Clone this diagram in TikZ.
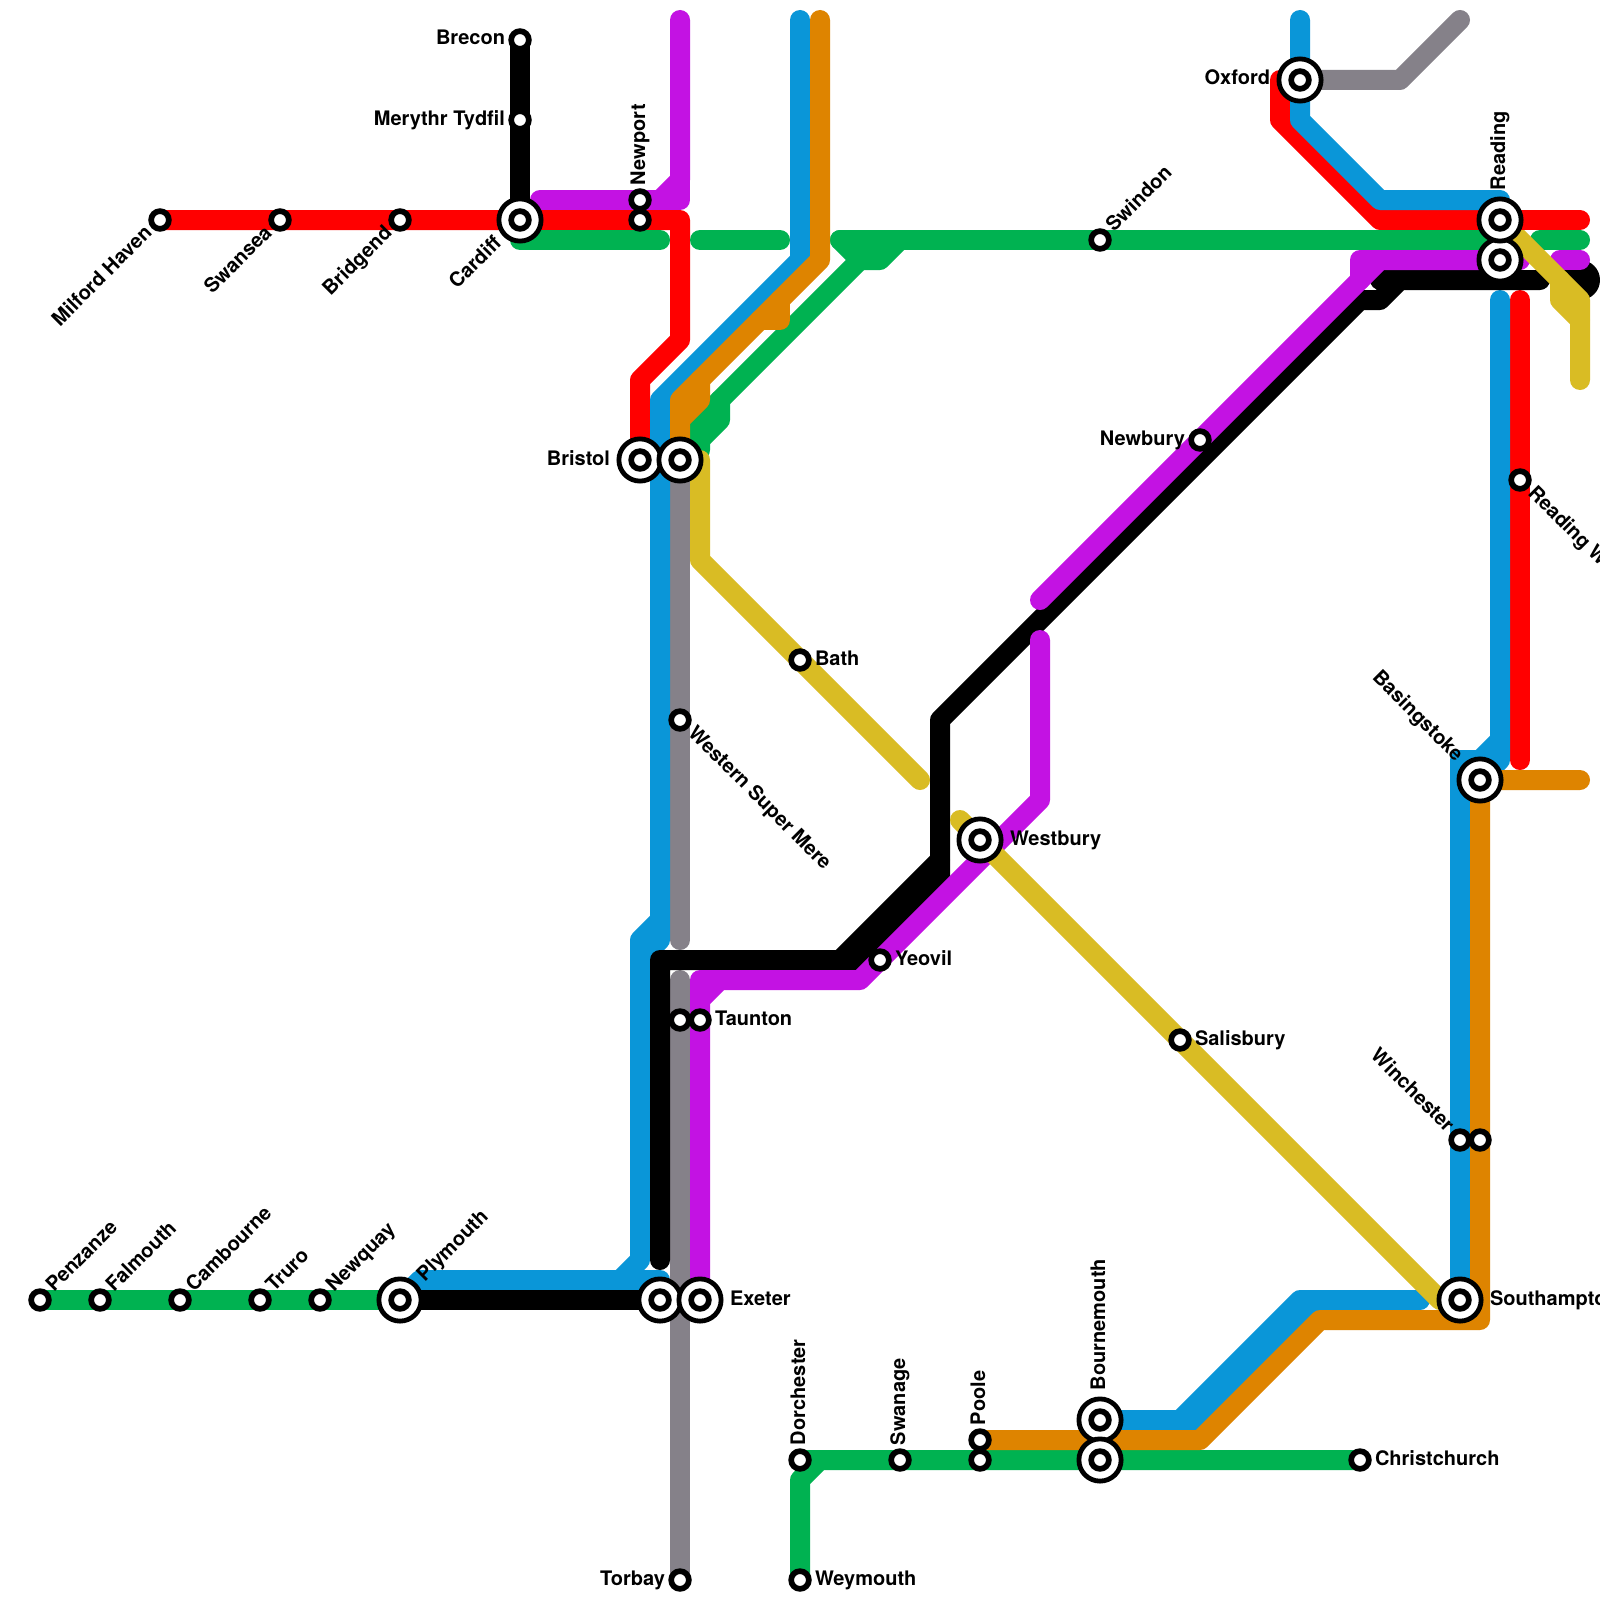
\documentclass[tikz,border=0pt]{standalone}
\usepackage{fontspec}
\setmainfont{TeX Gyre Heros}
\definecolor{lred}{HTML}{FF0000}
\definecolor{lgreen}{HTML}{00B251}
\definecolor{lgray}{HTML}{858189}
\definecolor{lblue}{HTML}{0A96D8}
\definecolor{lorange}{HTML}{DE8400}
\definecolor{lpurple}{HTML}{C312E3}
\definecolor{lyellow}{HTML}{D9BC24}
\tikzset{
  metro/.style={line width=20pt,line cap=round,line join=round},
  smallst/.style={circle,draw=black,fill=white,line width=5.7pt,minimum size=17.7pt,inner sep=0pt,outer sep=0pt},
  bigst/.style={circle,draw=black,fill=white,line width=4.8pt,minimum size=42.2pt,inner sep=0pt,outer sep=0pt},
  lab/.style={font=\fontsize{20pt}{20pt}\selectfont\bfseries,inner sep=0pt,outer sep=0pt,text=black},
  labE/.style 2 args={lab,shift={(#1:#2pt)},shift={(#1-90:5pt)},rotate=#1,anchor=base west},
  labW/.style 2 args={lab,shift={(#1+180:#2pt)},shift={(#1-90:5pt)},rotate=#1,anchor=base east}
}
\newcommand{\smallstation}[1]{\node[smallst] (s#1) at (#1) {};}
\newcommand{\bigstation}[1]{\node[bigst] (b#1) at (#1) {};\node[smallst] (s#1) at (#1) {};}
\begin{document}
\begin{tikzpicture}[x=1pt,y=-1pt]
\useasboundingbox (0,0) rectangle (1600,1600);
\fill[white] (0,0) rectangle (1600,1600);
% stations
\coordinate (penzanze) at (40,1300);
\coordinate (falmouth) at (100,1300);
\coordinate (cambourne) at (180,1300);
\coordinate (truro) at (260,1300);
\coordinate (newquay) at (320,1300);
\coordinate (plymouth) at (400,1300);
\coordinate (exeterA) at (660,1300);
\coordinate (exeter) at (700,1300);
\coordinate (milford) at (160,220);
\coordinate (swansea) at (280,220);
\coordinate (bridgend) at (400,220);
\coordinate (cardiff) at (520,220);
\coordinate (brecon) at (520,40);
\coordinate (merthyr) at (520,120);
\coordinate (newport) at (640,200);
\coordinate (newportB) at (640,220);
\coordinate (bristol) at (640,460);
\coordinate (bristolB) at (680,460);
\coordinate (oxford) at (1300,80);
\coordinate (reading) at (1500,220);
\coordinate (readingB) at (1500,260);
\coordinate (swindon) at (1100,240);
\coordinate (newbury) at (1200,440);
\coordinate (readingW) at (1520,480);
\coordinate (bath) at (800,660);
\coordinate (wsm) at (680,720);
\coordinate (westbury) at (980,840);
\coordinate (yeovil) at (880,960);
\coordinate (tauntonA) at (680,1020);
\coordinate (taunton) at (700,1020);
\coordinate (salisbury) at (1180,1040);
\coordinate (basingstoke) at (1480,780);
\coordinate (winchester) at (1460,1140);
\coordinate (winchesterB) at (1480,1140);
\coordinate (southampton) at (1460,1300);
\coordinate (bournemouth) at (1100,1420);
\coordinate (bournemouthB) at (1100,1460);
\coordinate (poole) at (980,1440);
\coordinate (pooleB) at (980,1460);
\coordinate (swanage) at (900,1460);
\coordinate (dorchester) at (800,1460);
\coordinate (christchurch) at (1360,1460);
\coordinate (weymouth) at (800,1580);
\coordinate (torbay) at (680,1580);
% red
\draw[metro,lred] (milford) -- (680,220) -- (680,340) -- (640,380) -- (bristol);
\draw[metro,lred] (oxford) -- (1280,80) -- (1280,120) -- (1380,220) -- (reading);
\draw[metro,lred] (1520,300) -- (readingW) -- (1520,760);
% green
\draw[metro,lgreen] (penzanze) -- (plymouth);
\draw[metro,lgreen] (520,240) -- (660,240);
\draw[metro,lgreen] (700,240) -- (780,240);
\draw[metro,lgreen] (840,240) -- (swindon) -- (1500,240);
\draw[metro,lgreen] (1540,240) -- (1580,240);
\draw[metro,lgreen] (840,240) -- (860,260) -- (880,260) -- (900,240);
\draw[metro,lgreen] (860,260) -- (700,420) -- (700,450);
\draw[metro,lgreen] (720,400) -- (720,420) -- (bristolB);
\draw[metro,lgreen] (weymouth) -- (800,1480) -- (820,1460) -- (christchurch);
\draw[metro,lgreen] (dorchester) -- (820,1460);
% gray
\draw[metro,lgray] (bristolB) -- (680,940);
\draw[metro,lgray] (680,980) -- (torbay);
\draw[metro,lgray] (oxford) -- (1400,80) -- (1460,20);
% blue
\draw[metro,lblue] (800,20) -- (800,260) -- (660,400) -- (660,940) -- (640,960);
\draw[metro,lblue] (660,920) -- (640,940) -- (640,1260) -- (620,1280) -- (420,1280) -- (plymouth);
\draw[metro,lblue] (620,1280) -- (660,1280) -- (exeterA);
\draw[metro,lblue] (1300,20) -- (1300,120) -- (1380,200) -- (1500,200) -- (reading);
\draw[metro,lblue] (1500,300) -- (1500,740) -- (1480,760) -- (1460,760) -- (southampton);
\draw[metro,lblue] (1500,740) -- (1500,760) -- (basingstoke);
\draw[metro,lblue] (bournemouth) -- (1200,1420) -- (1320,1300) -- (1420,1300);
\draw[metro,lblue] (1180,1420) -- (1300,1300) -- (1320,1300);
% black
\draw[metro,black] (brecon) -- (cardiff);
\draw[metro,black] (plymouth) -- (exeterA);
\draw[metro,black] (660,1260) -- (660,960) -- (860,960) -- (940,880) -- (940,720) -- (1360,300) -- (1380,300) -- (1400,280) -- (1540,280);
\draw[metro,black] (840,960) -- (940,860);
\draw[metro,black] (1380,280) -- (1400,280);
\draw[metro,black] (1560,280) -- (1580,280);
\fill[black] (1580,280) circle[radius=20pt];
% orange
\draw[metro,lorange] (820,20) -- (820,260) -- (680,400) -- (bristolB);
\draw[metro,lorange] (780,300) -- (780,320) -- (760,320);
\draw[metro,lorange] (700,380) -- (700,400) -- (680,420);
\draw[metro,lorange] (1580,780) -- (basingstoke) -- (1480,1320) -- (1320,1320) -- (1200,1440) -- (poole);
% purple
\draw[metro,lpurple] (540,200) -- (newport) -- (680,200) -- (680,180);
\draw[metro,lpurple] (660,200) -- (680,180) -- (680,20);
\draw[metro,lpurple] (1040,640) -- (1040,800) -- (860,980) -- (720,980) -- (700,1000) -- (exeter);
\draw[metro,lpurple] (700,1000) -- (700,980) -- (720,980);
\draw[metro,lpurple] (1040,600) -- (newbury) -- (1380,260) -- (1520,260);
\draw[metro,lpurple] (1360,280) -- (1360,260) -- (1380,260);
\draw[metro,lpurple] (1560,260) -- (1580,260);
% yellow
\draw[metro,lyellow] (bristolB) ++(20,0) -- (700,560) -- (920,780);
\draw[metro,lyellow] (960,820) -- (salisbury) -- (1440,1300) -- (1450,1300);
\draw[metro,lyellow] (reading) -- (1580,300) -- (1580,380);
\draw[metro,lyellow] (1560,280) -- (1560,300) -- (1580,320);
\draw[metro,lred] (reading) -- (1580,220);
% station symbols
\smallstation{penzanze}\smallstation{falmouth}\smallstation{cambourne}\smallstation{truro}\smallstation{newquay}
\bigstation{plymouth}\bigstation{exeterA}\bigstation{exeter}
\smallstation{milford}\smallstation{swansea}\smallstation{bridgend}\bigstation{cardiff}
\smallstation{brecon}\smallstation{merthyr}\smallstation{newport}\smallstation{newportB}
\bigstation{bristol}\bigstation{bristolB}\bigstation{oxford}\bigstation{readingB}\bigstation{reading}
\smallstation{swindon}\smallstation{newbury}\smallstation{readingW}\smallstation{bath}\smallstation{wsm}
\bigstation{westbury}\smallstation{yeovil}\smallstation{tauntonA}\smallstation{taunton}\smallstation{salisbury}
\bigstation{basingstoke}\smallstation{winchester}\smallstation{winchesterB}\bigstation{southampton}
\bigstation{bournemouth}\bigstation{bournemouthB}\smallstation{poole}\smallstation{pooleB}\smallstation{swanage}
\smallstation{dorchester}\smallstation{christchurch}\smallstation{weymouth}\smallstation{torbay}
% labels
\node[labE={45}{15}] (lpenzanze) at (penzanze) {Penzanze};
\node[labE={45}{15}] (lfalmouth) at (falmouth) {Falmouth};
\node[labE={45}{15}] (lcambourne) at (cambourne) {Cambourne};
\node[labE={45}{15}] (ltruro) at (truro) {Truro};
\node[labE={45}{15}] (lnewquay) at (newquay) {Newquay};
\node[labE={45}{30}] (lplymouth) at (plymouth) {Plymouth};
\node[labE={45}{15}] (lswindon) at (swindon) {Swindon};
\node[labW={45}{15}] (lmilford) at (milford) {Milford Haven};
\node[labW={45}{15}] (lswansea) at (swansea) {Swansea};
\node[labW={45}{15}] (lbridgend) at (bridgend) {Bridgend};
\node[labW={45}{30}] (lcardiff) at (cardiff) {Cardiff};
\node[labW={0}{15}] (lbrecon) at (brecon) {Brecon};
\node[labW={0}{15}] (lmerthyr) at (merthyr) {Merythr Tydfil};
\node[labW={0}{30}] (lbristol) at (bristol) {Bristol};
\node[labW={0}{30}] (loxford) at (oxford) {Oxford};
\node[labW={0}{15}] (lnewbury) at (newbury) {Newbury};
\node[labW={0}{15}] (ltorbay) at (torbay) {Torbay};
\node[labE={0}{30}] (lexeter) at (exeter) {Exeter};
\node[labE={0}{15}] (lbath) at (bath) {Bath};
\node[labE={0}{15}] (lyeovil) at (yeovil) {Yeovil};
\node[labE={0}{15}] (ltaunton) at (taunton) {Taunton};
\node[labE={0}{30}] (lwestbury) at (westbury) {Westbury};
\node[labE={0}{15}] (lsalisbury) at (salisbury) {Salisbury};
\node[labE={0}{15}] (lchristchurch) at (christchurch) {Christchurch};
\node[labE={0}{15}] (lweymouth) at (weymouth) {Weymouth};
\node[labE={0}{30}] (lsouthampton) at (southampton) {Southampton};
\node[labE={90}{15}] (lnewport) at (newport) {Newport};
\node[labE={90}{30}] (lreading) at (reading) {Reading};
\node[labE={90}{15}] (ldorchester) at (dorchester) {Dorchester};
\node[labE={90}{15}] (lswanage) at (swanage) {Swanage};
\node[labE={90}{15}] (lpoole) at (poole) {Poole};
\node[labE={90}{30}] (lbournemouth) at (bournemouth) {Bournemouth};
\node[labE={-45}{15}] (lwsm) at (wsm) {Western Super Mere};
\node[labE={-45}{15}] (lreadingW) at (readingW) {Reading West};
\node[labW={-45}{30}] (lbasingstoke) at (basingstoke) {Basingstoke};
\node[labW={-45}{15}] (lwinchester) at (winchester) {Winchester};
\end{tikzpicture}
\end{document}
